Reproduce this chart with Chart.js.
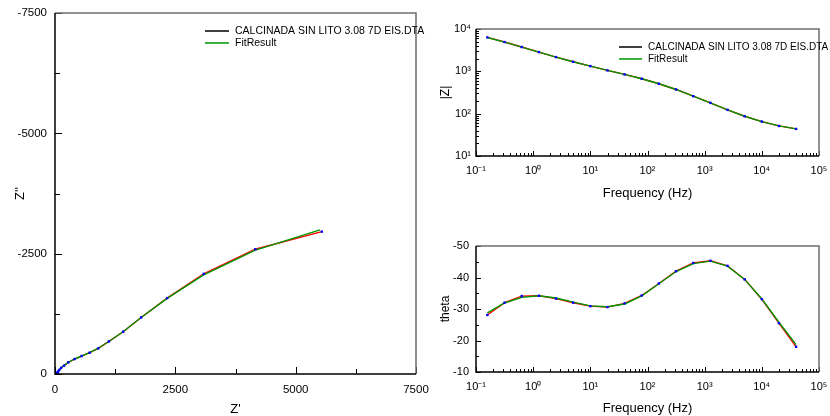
<!DOCTYPE html>
<html>
<head>
<meta charset="utf-8">
<script src="https://cdn.jsdelivr.net/npm/chart.js@4.4.1/dist/chart.umd.min.js"></script>
<style>
  html, body { margin: 0; padding: 0; background: #fff; }
  body { width: 830px; height: 416px; position: relative; overflow: hidden; }
  canvas { position: absolute; }
</style>
</head>
<body>
<canvas id="nyquist" width="430" height="416" style="left:0;top:0"></canvas>
<canvas id="bodeMod" width="390" height="200" style="left:440px;top:0"></canvas>
<canvas id="bodePhase" width="390" height="216" style="left:440px;top:200px"></canvas>
<script>
// ---- datos ----
const dataLabel = 'CALCINADA SIN LITO 3.08 7D EIS.DTA';
const fitLabel = 'FitResult';

const freq = [0.158, 0.316, 0.631, 1.26, 2.51, 5.01, 10.0, 19.9, 39.8, 79.4, 158, 316, 631, 1260, 2510, 5010, 10000, 19900, 39800];

// Nyquist
const zReal = [5544, 4161, 3090, 2329, 1790, 1417, 1120, 899, 719, 553, 408, 276, 187, 127, 89, 67, 54, 46, 41];
const zImag = [-2958, -2592, -2081, -1576, -1175, -878, -677, -532, -442, -373, -311, -242, -173, -128, -85, -55, -35, -22, -13];
const zRealFit = [5505, 4150, 3080, 2330, 1795, 1420, 1125, 902, 720, 555, 410, 278, 188, 128, 90, 68, 54, 46, 41];
const zImagFit = [-2993, -2570, -2055, -1570, -1178, -882, -680, -535, -444, -374, -312, -244, -174, -129, -86, -56, -36, -23, -14];

// Bode
const zMod = [6340, 4920, 3750, 2850, 2170, 1680, 1330, 1050, 845, 667, 508, 373, 259, 180, 123, 87, 65, 51.3, 43.6];
const zModFit = [6300, 4900, 3740, 2850, 2170, 1680, 1330, 1050, 845, 668, 508, 373, 259, 180, 123, 87, 65, 51.5, 43.8];
const theta = [-28.1, -32.0, -34.1, -34.2, -33.3, -32.0, -30.9, -30.6, -31.8, -34.3, -38.1, -42.0, -44.6, -45.3, -43.7, -39.4, -33.1, -25.5, -18.0];
const thetaFit = [-28.8, -31.9, -33.7, -34.2, -33.5, -32.2, -31.0, -30.7, -31.6, -34.2, -38.0, -41.9, -44.4, -45.2, -43.6, -39.4, -33.2, -25.8, -18.7];

// ejes
const nyqTicks = [0, 2500, 5000, 7500];
const freqRange = [0.1, 100000];
const modRange = [10, 10000];
const thetaTicks = [-50, -40, -30, -20, -10];

const FONT = '"Liberation Sans", Arial, sans-serif';
const RED = 'rgb(255,0,0)';
const GREEN = 'rgb(0,150,0)';
const BLUE = 'rgb(0,0,255)';

const pts = (xs, ys) => xs.map((x, i) => ({ x: x, y: ys[i] }));

const SUP = { '-': '\u207B', '0': '\u2070', '1': '\u00B9', '2': '\u00B2', '3': '\u00B3', '4': '\u2074', '5': '\u2075', '6': '\u2076', '7': '\u2077', '8': '\u2078', '9': '\u2079' };
const powLabel = v => {
    const e = Math.log10(v);
    if (Math.abs(e - Math.round(e)) > 1e-6) return '';
    return '10' + String(Math.round(e)).split('').map(c => SUP[c]).join('');
};

const logTicks = scale => {
    const out = [];
    const lo = Math.round(Math.log10(scale.min));
    const hi = Math.round(Math.log10(scale.max));
    for (let e = lo; e < hi; e++) {
        for (let m = 1; m < 10; m++) out.push({ value: m * Math.pow(10, e) });
    }
    out.push({ value: Math.pow(10, hi) });
    scale.ticks = out;
};

// tamaño fijo de los ejes, sin el relleno extra de las etiquetas
const fixH = h => s => { s.height = h; s.paddingLeft = 0; s.paddingRight = 0; };
const fixW = w => s => { s.width = w; s.paddingTop = 0; s.paddingBottom = 0; };

/*
 marco, ticks hacia dentro y leyenda
*/
const framePlugin = {
    id: 'frame',
    afterDatasetsDraw(chart, args, opts) {
        const { ctx, chartArea: a, scales } = chart;
        ctx.save();
        ctx.strokeStyle = '#000';
        ctx.lineWidth = 1;

        scales.x.ticks.forEach(t => {
            const px = Math.round(scales.x.getPixelForValue(t.value)) + 0.5;
            const len = t.label ? opts.major : opts.minor;
            ctx.beginPath();
            ctx.moveTo(px, a.bottom);
            ctx.lineTo(px, a.bottom - len);
            ctx.stroke();
        });

        scales.y.ticks.forEach(t => {
            const py = Math.round(scales.y.getPixelForValue(t.value)) + 0.5;
            const len = t.label ? opts.major : opts.minor;
            ctx.beginPath();
            ctx.moveTo(a.left, py);
            ctx.lineTo(a.left + len, py);
            ctx.stroke();
        });

        // lados superior y derecho grises
        ctx.strokeStyle = '#6e6e6e';
        ctx.lineWidth = 1.5;
        ctx.beginPath();
        ctx.moveTo(a.left, a.top);
        ctx.lineTo(a.right, a.top);
        ctx.lineTo(a.right, a.bottom);
        ctx.stroke();

        // lados izquierdo e inferior negros
        ctx.strokeStyle = '#000';
        ctx.beginPath();
        ctx.moveTo(a.left, a.top);
        ctx.lineTo(a.left, a.bottom);
        ctx.lineTo(a.right, a.bottom);
        ctx.stroke();

        // leyenda
        if (opts.legend) {
            const L = opts.legend;
            ctx.font = L.size + 'px ' + FONT;
            ctx.textBaseline = 'middle';
            ctx.textAlign = 'left';
            L.rows.forEach((r, i) => {
                const y = L.y + i * L.gap;
                ctx.strokeStyle = r.color;
                ctx.lineWidth = 1.5;
                ctx.beginPath();
                ctx.moveTo(L.x, y);
                ctx.lineTo(L.x + L.len, y);
                ctx.stroke();
                ctx.fillStyle = '#000';
                ctx.fillText(chart.data.datasets[r.ds].label, L.x + L.len + 6, y);
            });
        }
        ctx.restore();
    }
};

// 0: ajuste (verde), 1: datos (rojo), 2: puntos azules encima
const baseDatasets = (dataPts, fitPts) => [
    {
        label: fitLabel,
        data: fitPts,
        showLine: true,
        borderColor: GREEN,
        borderWidth: 1.4,
        pointRadius: 0,
        order: 1
    },
    {
        label: dataLabel,
        data: dataPts,
        showLine: true,
        borderColor: RED,
        borderWidth: 1.4,
        pointRadius: 0,
        order: 2
    },
    {
        label: dataLabel,
        data: dataPts,
        showLine: false,
        pointStyle: 'rect',
        pointRadius: 1.7,
        pointBackgroundColor: BLUE,
        pointBorderColor: BLUE,
        pointBorderWidth: 0,
        order: 0
    }
];

const tickFont = size => ({ family: FONT, size: size });
const titleFont = size => ({ family: FONT, size: size, lineHeight: 1 });
const noGrid = { display: false, drawTicks: false };

/*
 NYQUIST
*/
new Chart(document.getElementById('nyquist'), {
    type: 'scatter',
    data: { datasets: baseDatasets(pts(zReal, zImag), pts(zRealFit, zImagFit)) },
    options: {
        responsive: false,
        animation: false,
        layout: { padding: { left: 0, top: 13, right: 14, bottom: 0 } },
        plugins: {
            legend: { display: false },
            tooltip: { enabled: false },
            frame: {
                major: 7, minor: 5,
                legend: { x: 205, y: 31, gap: 12, len: 24, size: 10.5, rows: [{ ds: 1, color: '#000' }, { ds: 0, color: GREEN }] }
            }
        },
        scales: {
            x: {
                type: 'linear', min: nyqTicks[0], max: nyqTicks[3],
                ticks: { stepSize: 1250, autoSkip: false, maxRotation: 0, padding: 9, color: '#000', font: tickFont(11.5),
                    callback: v => nyqTicks.includes(v) ? String(v) : '' },
                grid: noGrid, border: { display: false },
                title: { display: true, text: "Z'", color: '#000', font: titleFont(13), padding: { top: 0, bottom: 0 } },
                afterFit: fixH(42)
            },
            y: {
                type: 'linear', min: -7500, max: 0, reverse: true,
                ticks: { stepSize: 1250, autoSkip: false, padding: 8, color: '#000', font: tickFont(11.5),
                    callback: v => nyqTicks.includes(-v) ? String(v) : '' },
                grid: noGrid, border: { display: false },
                title: { display: true, text: "Z''", color: '#000', font: titleFont(13), padding: { top: 14, bottom: 0 } },
                afterFit: fixW(55)
            }
        }
    },
    plugins: [framePlugin]
});

/*
 BODE |Z|
*/
new Chart(document.getElementById('bodeMod'), {
    type: 'scatter',
    data: { datasets: baseDatasets(pts(freq, zMod), pts(freq, zModFit)) },
    options: {
        responsive: false,
        animation: false,
        layout: { padding: { left: 0, top: 29, right: 11, bottom: 0 } },
        plugins: {
            legend: { display: false },
            tooltip: { enabled: false },
            frame: {
                major: 5, minor: 3,
                legend: { x: 179, y: 47, gap: 12, len: 23, size: 10, rows: [{ ds: 1, color: '#000' }, { ds: 0, color: GREEN }] }
            }
        },
        scales: {
            x: {
                type: 'logarithmic', min: freqRange[0], max: freqRange[1],
                afterBuildTicks: logTicks,
                ticks: { autoSkip: false, maxRotation: 0, padding: 8, color: '#000', font: tickFont(11), callback: powLabel },
                grid: noGrid, border: { display: false },
                title: { display: true, text: 'Frequency (Hz)', color: '#000', font: titleFont(13), padding: { top: 0, bottom: 0 } },
                afterFit: fixH(44)
            },
            y: {
                type: 'logarithmic', min: modRange[0], max: modRange[1],
                afterBuildTicks: logTicks,
                ticks: { autoSkip: false, padding: 5, color: '#000', font: tickFont(11), callback: powLabel },
                grid: noGrid, border: { display: false },
                title: { display: true, text: '|Z|', color: '#000', font: titleFont(12), padding: { top: 0, bottom: 0 } },
                afterFit: fixW(36)
            }
        }
    },
    plugins: [framePlugin]
});

/*
 BODE theta
*/
new Chart(document.getElementById('bodePhase'), {
    type: 'scatter',
    data: { datasets: baseDatasets(pts(freq, theta), pts(freq, thetaFit)) },
    options: {
        responsive: false,
        animation: false,
        layout: { padding: { left: 0, top: 46, right: 11, bottom: 0 } },
        plugins: {
            legend: { display: false },
            tooltip: { enabled: false },
            frame: { major: 5, minor: 3 }
        },
        scales: {
            x: {
                type: 'logarithmic', min: freqRange[0], max: freqRange[1],
                afterBuildTicks: logTicks,
                ticks: { autoSkip: false, maxRotation: 0, padding: 8, color: '#000', font: tickFont(11), callback: powLabel },
                grid: noGrid, border: { display: false },
                title: { display: true, text: 'Frequency (Hz)', color: '#000', font: titleFont(13), padding: { top: 0, bottom: 1 } },
                afterFit: fixH(44)
            },
            y: {
                type: 'linear', min: thetaTicks[0], max: thetaTicks[4], reverse: true,
                ticks: { stepSize: 5, autoSkip: false, padding: 7, color: '#000', font: tickFont(11),
                    callback: v => thetaTicks.includes(v) ? String(v) : '' },
                grid: noGrid, border: { display: false },
                title: { display: true, text: 'theta', color: '#000', font: titleFont(12), padding: { top: 0, bottom: 0 } },
                afterFit: fixW(36)
            }
        }
    },
    plugins: [framePlugin]
});
</script>
</body>
</html>
